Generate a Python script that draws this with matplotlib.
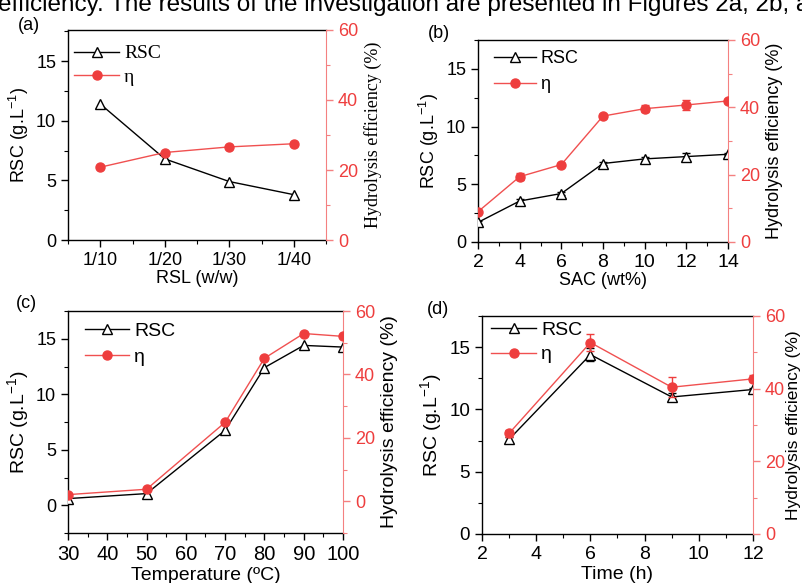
import matplotlib
matplotlib.use("Agg")
import matplotlib.pyplot as plt
from matplotlib.ticker import MultipleLocator, AutoMinorLocator
from matplotlib.lines import Line2D

plt.rcParams['font.family'] = ['Liberation Sans', 'DejaVu Sans']
plt.rcParams['mathtext.fontset'] = 'custom'
plt.rcParams['mathtext.rm'] = 'Liberation Sans'
plt.rcParams['mathtext.it'] = 'Liberation Sans:italic'

RED = '#EE3E3E'
RED_LINE = '#F05050'
RED_SPINE = '#F48080'

# ---------------- data ----------------
# (a)
rsl_labels = ['1/10', '1/20', '1/30', '1/40']
rsc_a = [11.4, 6.8, 4.9, 3.8]
eta_a = [20.8, 25.0, 26.6, 27.5]
# (b)
sac = [2, 4, 6, 8, 10, 12, 14]
rsc_b = [1.7, 3.55, 4.2, 6.8, 7.2, 7.4, 7.6]
rsc_b_err = [0.1, 0.15, 0.1, 0.1, 0.15, 0.35, 0.1]
eta_b = [9.0, 19.4, 23.0, 37.4, 39.6, 40.7, 41.9]
eta_b_err = [0.3, 1.0, 0.5, 0.5, 1.0, 1.5, 0.5]
# (c)
temp = [30, 50, 70, 80, 90, 100]
rsc_c = [0.6, 1.05, 6.75, 12.4, 14.4, 14.25]
eta_c = [2.1, 3.8, 24.9, 45.1, 52.9, 52.0]
# (d)
time_h = [3, 6, 9, 12]
rsc_d = [7.6, 14.4, 11.0, 11.6]
rsc_d_err = [0.2, 0.5, 0.3, 0.15]
eta_d = [27.7, 52.7, 40.4, 42.7]
eta_d_err = [1.0, 2.4, 2.8, 1.0]

W, H = 803, 583
fig = plt.figure(figsize=(W / 100, H / 100), dpi=100)


def box(l, r, t, b):
    return [l / W, 1 - b / H, (r - l) / W, (b - t) / H]


fig.text(-2 / W, 1 - 11 / H,
         "efficiency. The results of the investigation are presented in Figures 2a, 2b, a",
         fontsize=17.5, va='baseline', ha='left')


def panel(rect, x, rsc, eta, rsc_err, eta_err, xlim, ylim_l, ylim_r,
          xlabel, tag, tagpos, serif, leg_anchor, sizes, xticks=None,
          xticklabels=None, xmajor=None, xlpad=1, lsp=0.3, rts=None,
          rls=None, rlpad=4):
    yts, xts, ls, lgs = sizes
    rts = rts or yts
    rls = rls or ls
    ax = fig.add_axes(box(*rect))
    ax2 = ax.twinx()
    ax.errorbar(x, rsc, yerr=rsc_err, color='black', lw=1.0, marker='^',
                mfc='white', mec='black', ms=6.5, mew=1.0, capsize=3,
                elinewidth=1.0, zorder=3)
    ax2.errorbar(x, eta, yerr=eta_err, color=RED_LINE, lw=1.0, marker='o',
                 mfc=RED, mec=RED, ms=6.5, capsize=3, ecolor=RED,
                 elinewidth=1.0, zorder=3)
    ax.set_xlim(*xlim)
    ax.set_ylim(*ylim_l)
    ax2.set_ylim(*ylim_r)
    ax.yaxis.set_major_locator(MultipleLocator(5))
    ax.yaxis.set_minor_locator(AutoMinorLocator(2))
    ax2.yaxis.set_major_locator(MultipleLocator(20))
    ax2.yaxis.set_minor_locator(AutoMinorLocator(2))
    if xticks is not None:
        ax.set_xticks(xticks)
        ax.set_xticklabels(xticklabels)
        ax.xaxis.set_minor_locator(MultipleLocator(0.5))
    else:
        ax.xaxis.set_major_locator(MultipleLocator(xmajor))
        ax.xaxis.set_minor_locator(AutoMinorLocator(2))
    ax.tick_params(which='both', direction='out', top=False, right=False)
    ax.tick_params(axis='y', labelsize=yts)
    ax.tick_params(axis='x', labelsize=xts)
    ax.tick_params(which='major', length=5, width=1)
    ax.tick_params(which='minor', length=3, width=0.8)
    ax2.tick_params(which='both', direction='out', labelsize=rts, colors=RED_SPINE,
                    labelcolor=RED)
    ax2.tick_params(which='major', length=5, width=1)
    ax2.tick_params(which='minor', length=3, width=0.8)
    ax.spines['right'].set_visible(False)
    ax2.spines['right'].set_color(RED_SPINE)
    for s in ['left', 'top', 'bottom']:
        ax2.spines[s].set_visible(False)
    for s in ['left', 'top', 'bottom']:
        ax.spines[s].set_linewidth(1.0)
    ax.set_xlabel(xlabel, fontsize=ls, labelpad=xlpad)
    ax.set_ylabel('RSC (g.L$^{-1}$)', fontsize=ls, labelpad=4)
    if serif:
        ax2.set_ylabel('Hydrolysis efficiency (%)', fontsize=13,
                       family=['Liberation Serif', 'DejaVu Serif'], labelpad=rlpad)
    else:
        ax2.set_ylabel('Hydrolysis efficiency (%)', fontsize=rls, labelpad=rlpad)
    fig.text(tagpos[0] / W, 1 - tagpos[1] / H, tag, fontsize=13,
             ha='left', va='center')
    handles = [
        Line2D([], [], color='black', lw=1.0, marker='^', mfc='white',
               mec='black', ms=6.5),
        Line2D([], [], color=RED_LINE, lw=1.0, marker='o', mfc=RED,
               mec=RED, ms=6.5),
    ]
    if serif:
        prop = {'family': ['Liberation Serif', 'DejaVu Serif'], 'size': lgs}
    else:
        prop = {'size': lgs}
    ax2.legend(handles, ['RSC', 'η'], loc='upper left',
               bbox_to_anchor=leg_anchor, frameon=False, prop=prop,
               handlelength=2.3, handletextpad=0.25, labelspacing=lsp,
               borderaxespad=0, borderpad=0)
    ax2.patch.set_visible(False)
    return ax, ax2


panel((68, 326, 30, 240), list(range(4)), rsc_a, eta_a, None, None,
      (-0.5, 3.5), (0, 17.6), (0, 60), 'RSL (w/w)', '(a)', (18, 26), True,
      (0.025, 0.93), (13, 13, 13, 14), xticks=list(range(4)),
      xticklabels=rsl_labels, lsp=0.3)

panel((478, 728, 40, 242), sac, rsc_b, eta_b, rsc_b_err, eta_b_err,
      (2, 14), (0, 17.5), (0, 60), 'SAC (wt%)', '(b)', (428, 34), False,
      (0.065, 0.95), (13, 14, 13, 13), xmajor=2, lsp=0.5)

panel((68, 343, 311, 533), temp, rsc_c, eta_c, None, None,
      (30, 100), (-2.5, 17.5), (-10, 60), 'Temperature (ºC)', '(c)', (16, 303), False,
      (0.06, 0.95), (13, 14.5, 14, 14), xmajor=10, xlpad=2, lsp=0.45)

panel((482, 753, 316, 534), time_h, rsc_d, eta_d, rsc_d_err, eta_d_err,
      (2, 12), (0, 17.5), (0, 60), 'Time (h)', '(d)', (427, 309), False,
      (0.035, 0.975), (13.5, 14, 14, 14), xmajor=2, xlpad=2, lsp=0.35,
      rts=13, rls=12.5, rlpad=1)

fig.savefig('out.png', dpi=100)
